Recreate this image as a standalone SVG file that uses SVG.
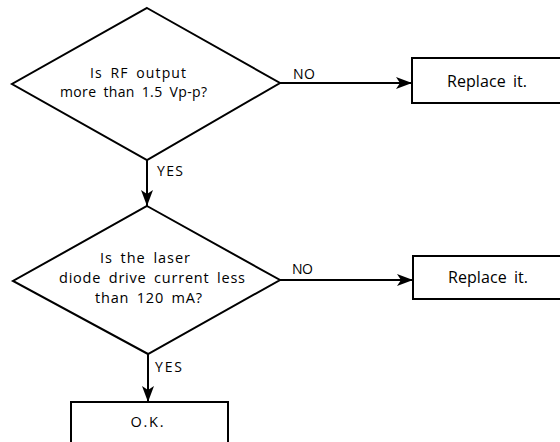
<svg xmlns="http://www.w3.org/2000/svg" width="560" height="442" viewBox="0 0 560 442">
<style>
.s{fill:#fff;stroke:#000;stroke-width:2}
.c{fill:none;stroke:#000;stroke-width:2}
text{font-family:"Open Sans","Noto Sans",sans-serif;font-size:14.5px;fill:#000;word-spacing:3px}
.m{text-anchor:middle}
.q{font-size:14px}
.r{font-size:16px}
.l{font-size:14px}
</style>
<defs>
<marker id="ah" markerUnits="userSpaceOnUse" markerWidth="18" markerHeight="12" refX="16" refY="6" orient="auto">
<path d="M0,0 L16,6 L0,12 L4,6 Z" fill="#000"/>
</marker>
</defs>
<g id="q1">
<polygon class="s" points="147,8 280,83 147,160 12,84"/>
<text class="m q" x="138" y="78" textLength="96" lengthAdjust="spacing">Is RF output</text>
<text class="m q" x="133.5" y="97" textLength="147" lengthAdjust="spacing">more than 1.5 Vp-p?</text>
</g>
<g id="r1">
<rect class="s" x="412" y="58" width="160" height="45"/>
<text class="m r" x="487" y="87" textLength="80" lengthAdjust="spacing">Replace it.</text>
</g>
<g id="q2">
<polygon class="s" points="147,206 280,280 148,354 13,281"/>
<text class="m" x="145" y="263" textLength="90" lengthAdjust="spacing">Is the laser</text>
<text class="m" x="152" y="283" textLength="186" lengthAdjust="spacing">diode drive current less</text>
<text class="m" x="148.5" y="303" textLength="107" lengthAdjust="spacing">than 120 mA?</text>
</g>
<g id="r2">
<rect class="s" x="413" y="256" width="160" height="43"/>
<text class="m r" x="488" y="283" textLength="80" lengthAdjust="spacing">Replace it.</text>
</g>
<g id="ok">
<rect class="s" x="71" y="402" width="157" height="50"/>
<text class="m" x="147" y="427" textLength="33" lengthAdjust="spacing">O.K.</text>
</g>
<g id="connectors">
<line class="c" x1="147" y1="160" x2="147" y2="206" marker-end="url(#ah)"/>
<line class="c" x1="280" y1="83" x2="412" y2="83" marker-end="url(#ah)"/>
<line class="c" x1="280" y1="280" x2="413" y2="280" marker-end="url(#ah)"/>
<line class="c" x1="148" y1="354" x2="148" y2="402" marker-end="url(#ah)"/>
<text class="l" x="157" y="176" textLength="26" lengthAdjust="spacing">YES</text>
<text class="l" x="293" y="79" textLength="22" lengthAdjust="spacing">NO</text>
<text class="l" x="155" y="372" textLength="27" lengthAdjust="spacing">YES</text>
<text class="l" x="292" y="274" textLength="21" lengthAdjust="spacing">NO</text>
</g>
</svg>
